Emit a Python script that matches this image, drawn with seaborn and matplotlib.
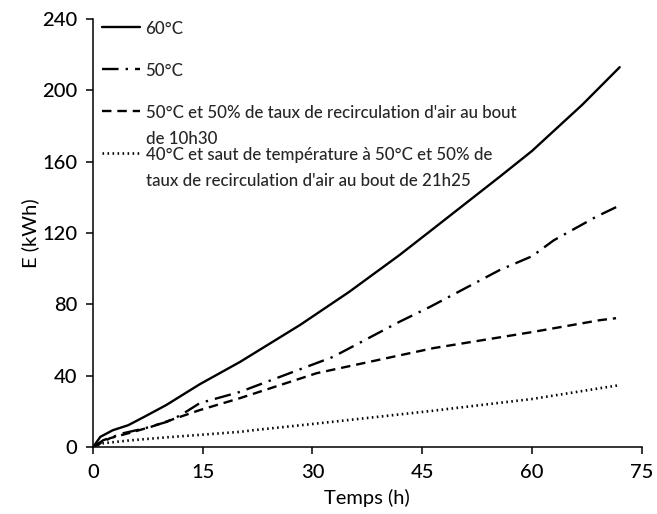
import matplotlib
matplotlib.use("Agg")
import matplotlib.pyplot as plt
import seaborn as sns
import pandas as pd

# ---- data ----
t60 = [0, 1.0, 2.7, 4.8, 7.0, 10.0, 14.6, 20.1, 28.3, 35.0, 41.9, 46.0, 55.6, 60.0, 66.9, 72.0]
e60 = [0, 5.8, 9.5, 12.3, 17.0, 23.6, 35.3, 47.8, 68.5, 87.0, 107.7, 120.8, 151.6, 166.0, 192.0, 213.0]

t50 = [0, 1.4, 4.1, 7.0, 10.1, 12.0, 14.6, 20.1, 32.8, 41.9, 46.0, 55.6, 60.0, 63.0, 68.8, 72.0]
e50 = [0, 3.9, 7.8, 10.5, 14.2, 18.0, 24.7, 31.0, 50.6, 70.3, 78.5, 99.3, 107.0, 116.0, 129.2, 135.5]

t50r = [0, 2.3, 5.0, 8.0, 11.4, 14.6, 20.1, 30.6, 46.5, 60.0, 69.3, 71.5]
e50r = [0, 5.0, 8.0, 11.5, 16.3, 20.8, 27.5, 41.5, 55.5, 64.5, 71.2, 72.3]

t40 = [0, 1.4, 5.0, 10.0, 20.1, 21.9, 30.0, 46.0, 60.0, 72.0]
e40 = [0, 2.2, 3.8, 5.5, 8.6, 9.5, 13.0, 20.2, 27.0, 34.8]

labels = [
    "60°C",
    "50°C",
    "50°C et 50% de taux de recirculation d'air au bout\nde 10h30",
    "40°C et saut de température à 50°C et 50% de\ntaux de recirculation d'air au bout de 21h25",
]
xticks = [0, 15, 30, 45, 60, 75]
yticks = [0, 40, 80, 120, 160, 200, 240]

sns.set_style("ticks")
plt.rcParams['font.family'] = ['Lato', 'DejaVu Sans']
plt.rcParams['font.weight'] = 'medium'

fig = plt.figure(figsize=(6.57, 5.14), dpi=100)
ax = fig.add_axes([0.1416, 0.130, 0.835, 0.833])

series = [(t60, e60), (t50, e50), (t50r, e50r), (t40, e40)]
styles = ["-", (0, (7, 3, 1, 3)), (0, (4, 2.5)), (0, (0.6, 1.3))]
widths = [1.7, 1.7, 1.7, 1.9]
legend_labels = [labels[0] + "\n", labels[1] + "\n", labels[2], labels[3]]
for (t, e), ls, lw, lab in zip(series, styles, widths, legend_labels):
    df = pd.DataFrame({"t": t, "e": e})
    sns.lineplot(data=df, x="t", y="e", ax=ax, color="black", linewidth=lw,
                 linestyle=ls, label=lab, sort=False)

ax.set_xlim(0, 75)
ax.set_ylim(0, 240)
ax.set_xticks(xticks)
ax.set_yticks(yticks)
ax.tick_params(axis="x", labelsize=14.5, direction="out", length=5, width=1.1,
               color="black", labelcolor="black", pad=7)
ax.tick_params(axis="y", labelsize=14.5, direction="out", length=5, width=1.1,
               color="black", labelcolor="black", pad=6.5)
for s in ["left", "bottom"]:
    ax.spines[s].set_linewidth(1.1)
    ax.spines[s].set_color("black")
sns.despine(ax=ax)
ax.set_xlabel("Temps (h)", fontsize=14.5, color="black", labelpad=6)
ax.set_ylabel("E (kWh)", fontsize=14.5, color="black", labelpad=2)

h, l = ax.get_legend_handles_labels()
leg = ax.legend(h, l, loc="upper left", bbox_to_anchor=(0.0, 1.015), frameon=False,
                fontsize=12.2, labelspacing=0.0, handlelength=2.3, handletextpad=0.3,
                borderaxespad=0.3, borderpad=0.2)
for txt in leg.get_texts():
    txt.set_linespacing(1.76)
for col in leg._legend_handle_box.get_children():
    for hp in col.get_children():
        hp.align = "top"

fig.savefig("out.png", dpi=100, facecolor="white")
